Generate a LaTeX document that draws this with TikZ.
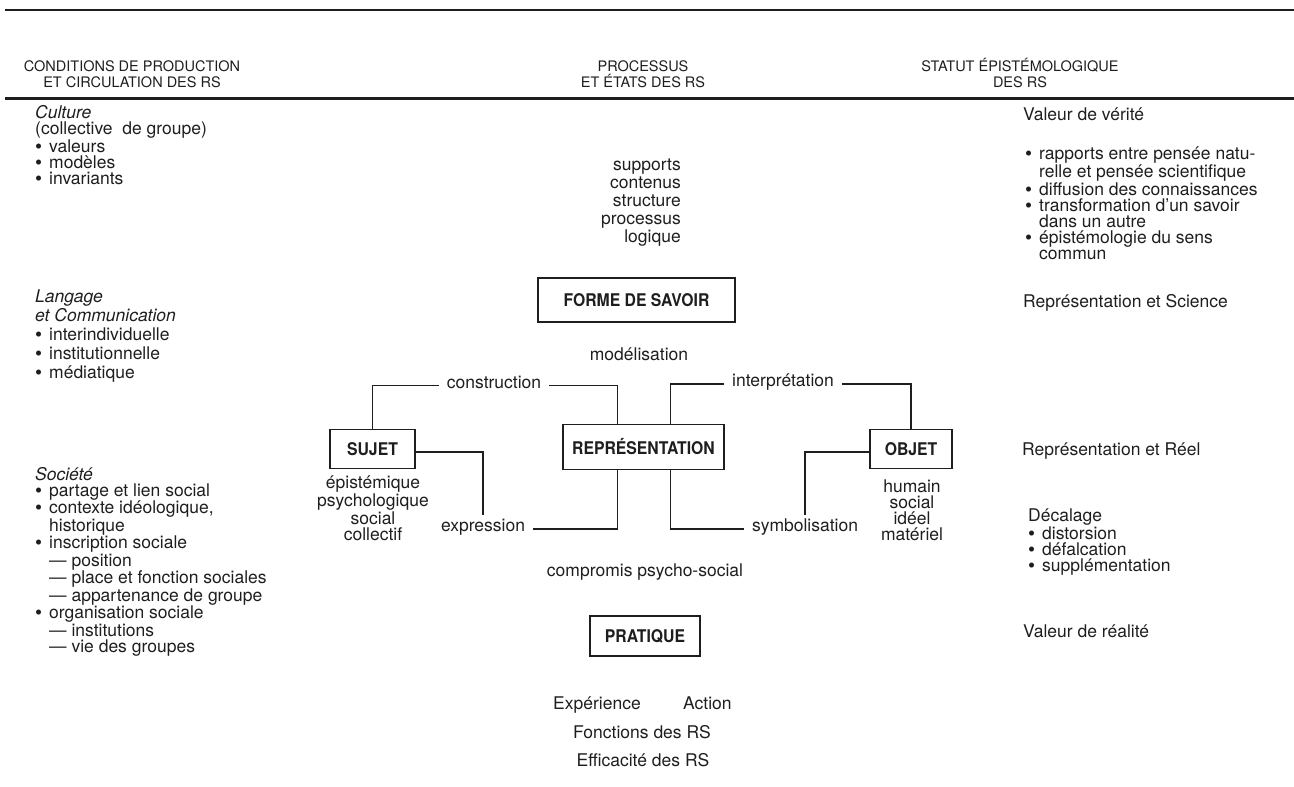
\documentclass[tikz,border=0pt]{standalone}
\usepackage{fontspec}
\setmainfont{TeX Gyre Heros}
\usepackage{graphicx}
\usetikzlibrary{positioning}

\definecolor{ink}{HTML}{1E1E1E}
\newcommand{\puce}{\makebox[14pt][l]{\raisebox{-1pt}{\scalebox{1.15}{\textbullet}}}}
\newcommand{\suite}{\hspace*{14pt}}
\newcommand{\tiret}{\hspace*{14pt}— }
\newcommand{\etroit}[1]{\scalebox{0.9}[1]{#1}}

% the base anchor of a multi-line node is the baseline of its last line
\tikzset{
	texte/.style={text=ink, inner sep=0pt, font=\fontsize{17.5}{16}\selectfont},
	bloc/.style={texte, align=left, anchor=base west},
	entete/.style={text=ink, inner sep=0pt, align=center, anchor=base, font=\fontsize{14.5}{16}\selectfont},
	boite/.style={draw=ink, line width=1.8pt, inner sep=0pt, text=ink, font=\fontsize{17.5}{18}\selectfont\bfseries},
	etiq/.style={texte, inner xsep=8pt, inner ysep=4pt},
	lien/.style={draw=ink, line width=1.8pt},
	filet/.style={draw=ink, line width=2.5pt},
}

\begin{document}
\begin{tikzpicture}[x=1pt, y=-1pt]
\useasboundingbox (0,0) rectangle (1294,787);

% filets
\coordinate (f1a) at (5,10);
\coordinate (f1b) at (1294,10);
\coordinate (f2a) at (5,98);
\coordinate (f2b) at (1294,98);
\draw[filet] (f1a) -- (f1b);
\draw[filet, line width=3pt] (f2a) -- (f2b);

% en-tetes
\node[entete] (hgauche) at (132,87) {CONDITIONS DE PRODUCTION\\ET CIRCULATION DES RS};
\node[entete] (hcentre) at (643,87) {PROCESSUS\\ET ÉTATS DES RS};
\node[entete] (hdroite) at (1020,87) {STATUT ÉPISTÉMOLOGIQUE\\DES RS};

% colonne gauche
\node[bloc] (culture) at (35,184) {\textit{Culture}\\(collective\ \ de groupe)\\\puce valeurs\\\puce modèles\\\puce invariants};
\node[bloc, font=\fontsize{17.5}{19}\selectfont] (langage) at (35,378) {\textit{Langage}\\\textit{et Communication}\\\puce interindividuelle\\\puce institutionnelle\\\puce médiatique};
\node[bloc] (societe) at (35,652) {\textit{Société}\\\puce partage et lien social\\\puce contexte idéologique,\\\suite historique\\\puce inscription sociale\\\tiret position\\\tiret place et fonction sociales\\\tiret appartenance de groupe\\\puce organisation sociale\\\tiret institutions\\\tiret vie des groupes};

% colonne droite
\node[bloc] (verite) at (1023,120) {Valeur de vérité};
\node[bloc] (rapports) at (1025,259) {\puce rapports entre pensée natu-\\\suite relle et pensée scientifique\\\puce diffusion des connaissances\\\puce transformation d'un savoir\\\suite dans un autre\\\puce épistémologie du sens\\\suite commun};
\node[bloc] (science) at (1023,307) {Représentation et Science};
\node[bloc] (reel) at (1022,455) {Représentation et Réel};
\node[bloc] (decalage) at (1028,571) {Décalage\\\puce distorsion\\\puce défalcation\\\puce supplémentation};
\node[bloc] (realite) at (1023,637) {Valeur de réalité};

% colonne centrale
\node[texte, align=right, anchor=base east, font=\fontsize{17.5}{17.8}\selectfont] (supports) at (681,242) {supports\\contenus\\structure\\processus\\logique};
\node[boite, minimum width=197pt, minimum height=44pt] (forme) at (636.5,300) {\etroit{FORME DE SAVOIR}};
\node[texte, anchor=base] (modelisation) at (639,360) {modélisation};
\node[boite, minimum width=161pt, minimum height=45pt] (repr) at (643.5,447) {\etroit{REPRÉSENTATION}};
\node[boite, minimum width=85pt, minimum height=39pt] (sujet) at (372.5,449) {\etroit{SUJET}};
\node[boite, minimum width=82pt, minimum height=39pt] (objet) at (911,449) {\etroit{OBJET}};
\node[texte, align=center, anchor=base] (qualsujet) at (373,540) {épistémique\\psychologique\\social\\collectif};
\node[texte, align=center, anchor=base] (qualobjet) at (912,540) {humain\\social\\idéel\\matériel};

\node[etiq] (construction) at (494,382) {construction};
\node[etiq] (interpretation) at (783,382) {interprétation};
\node[etiq] (expression) at (483,527) {expression};
\node[etiq] (symbolisation) at (805,527) {symbolisation};

\draw[lien] (sujet.north) |- (construction.mid west);
\draw[lien] (construction.mid east) -| ([xshift=-26pt]repr.north);
\draw[lien] ([xshift=27pt]repr.north) |- (interpretation.mid west);
\draw[lien] (interpretation.mid east) -| (objet.north);
\draw[lien] ([yshift=-3pt]sujet.east) -| (expression.north);
\draw[lien] (expression.mid east) -| ([xshift=-26pt]repr.south);
\draw[lien] ([xshift=27pt]repr.south) |- (symbolisation.mid west);
\draw[lien] ([yshift=-3pt]objet.west) -| (symbolisation.north);

\node[texte, anchor=base] (compromis) at (645,576) {compromis psycho-social};
\node[boite, minimum width=110pt, minimum height=40pt] (pratique) at (645,636) {\etroit{PRATIQUE}};
\node[texte, anchor=base west] (experience) at (553,709) {Expérience};
\node[texte, right=42pt of experience.base east, anchor=base west] (action) {Action};
\node[texte, anchor=base] (fonctions) at (642,738) {Fonctions des RS};
\node[texte, anchor=base] (efficacite) at (643,766) {Efficacité des RS};
\end{tikzpicture}
\end{document}
